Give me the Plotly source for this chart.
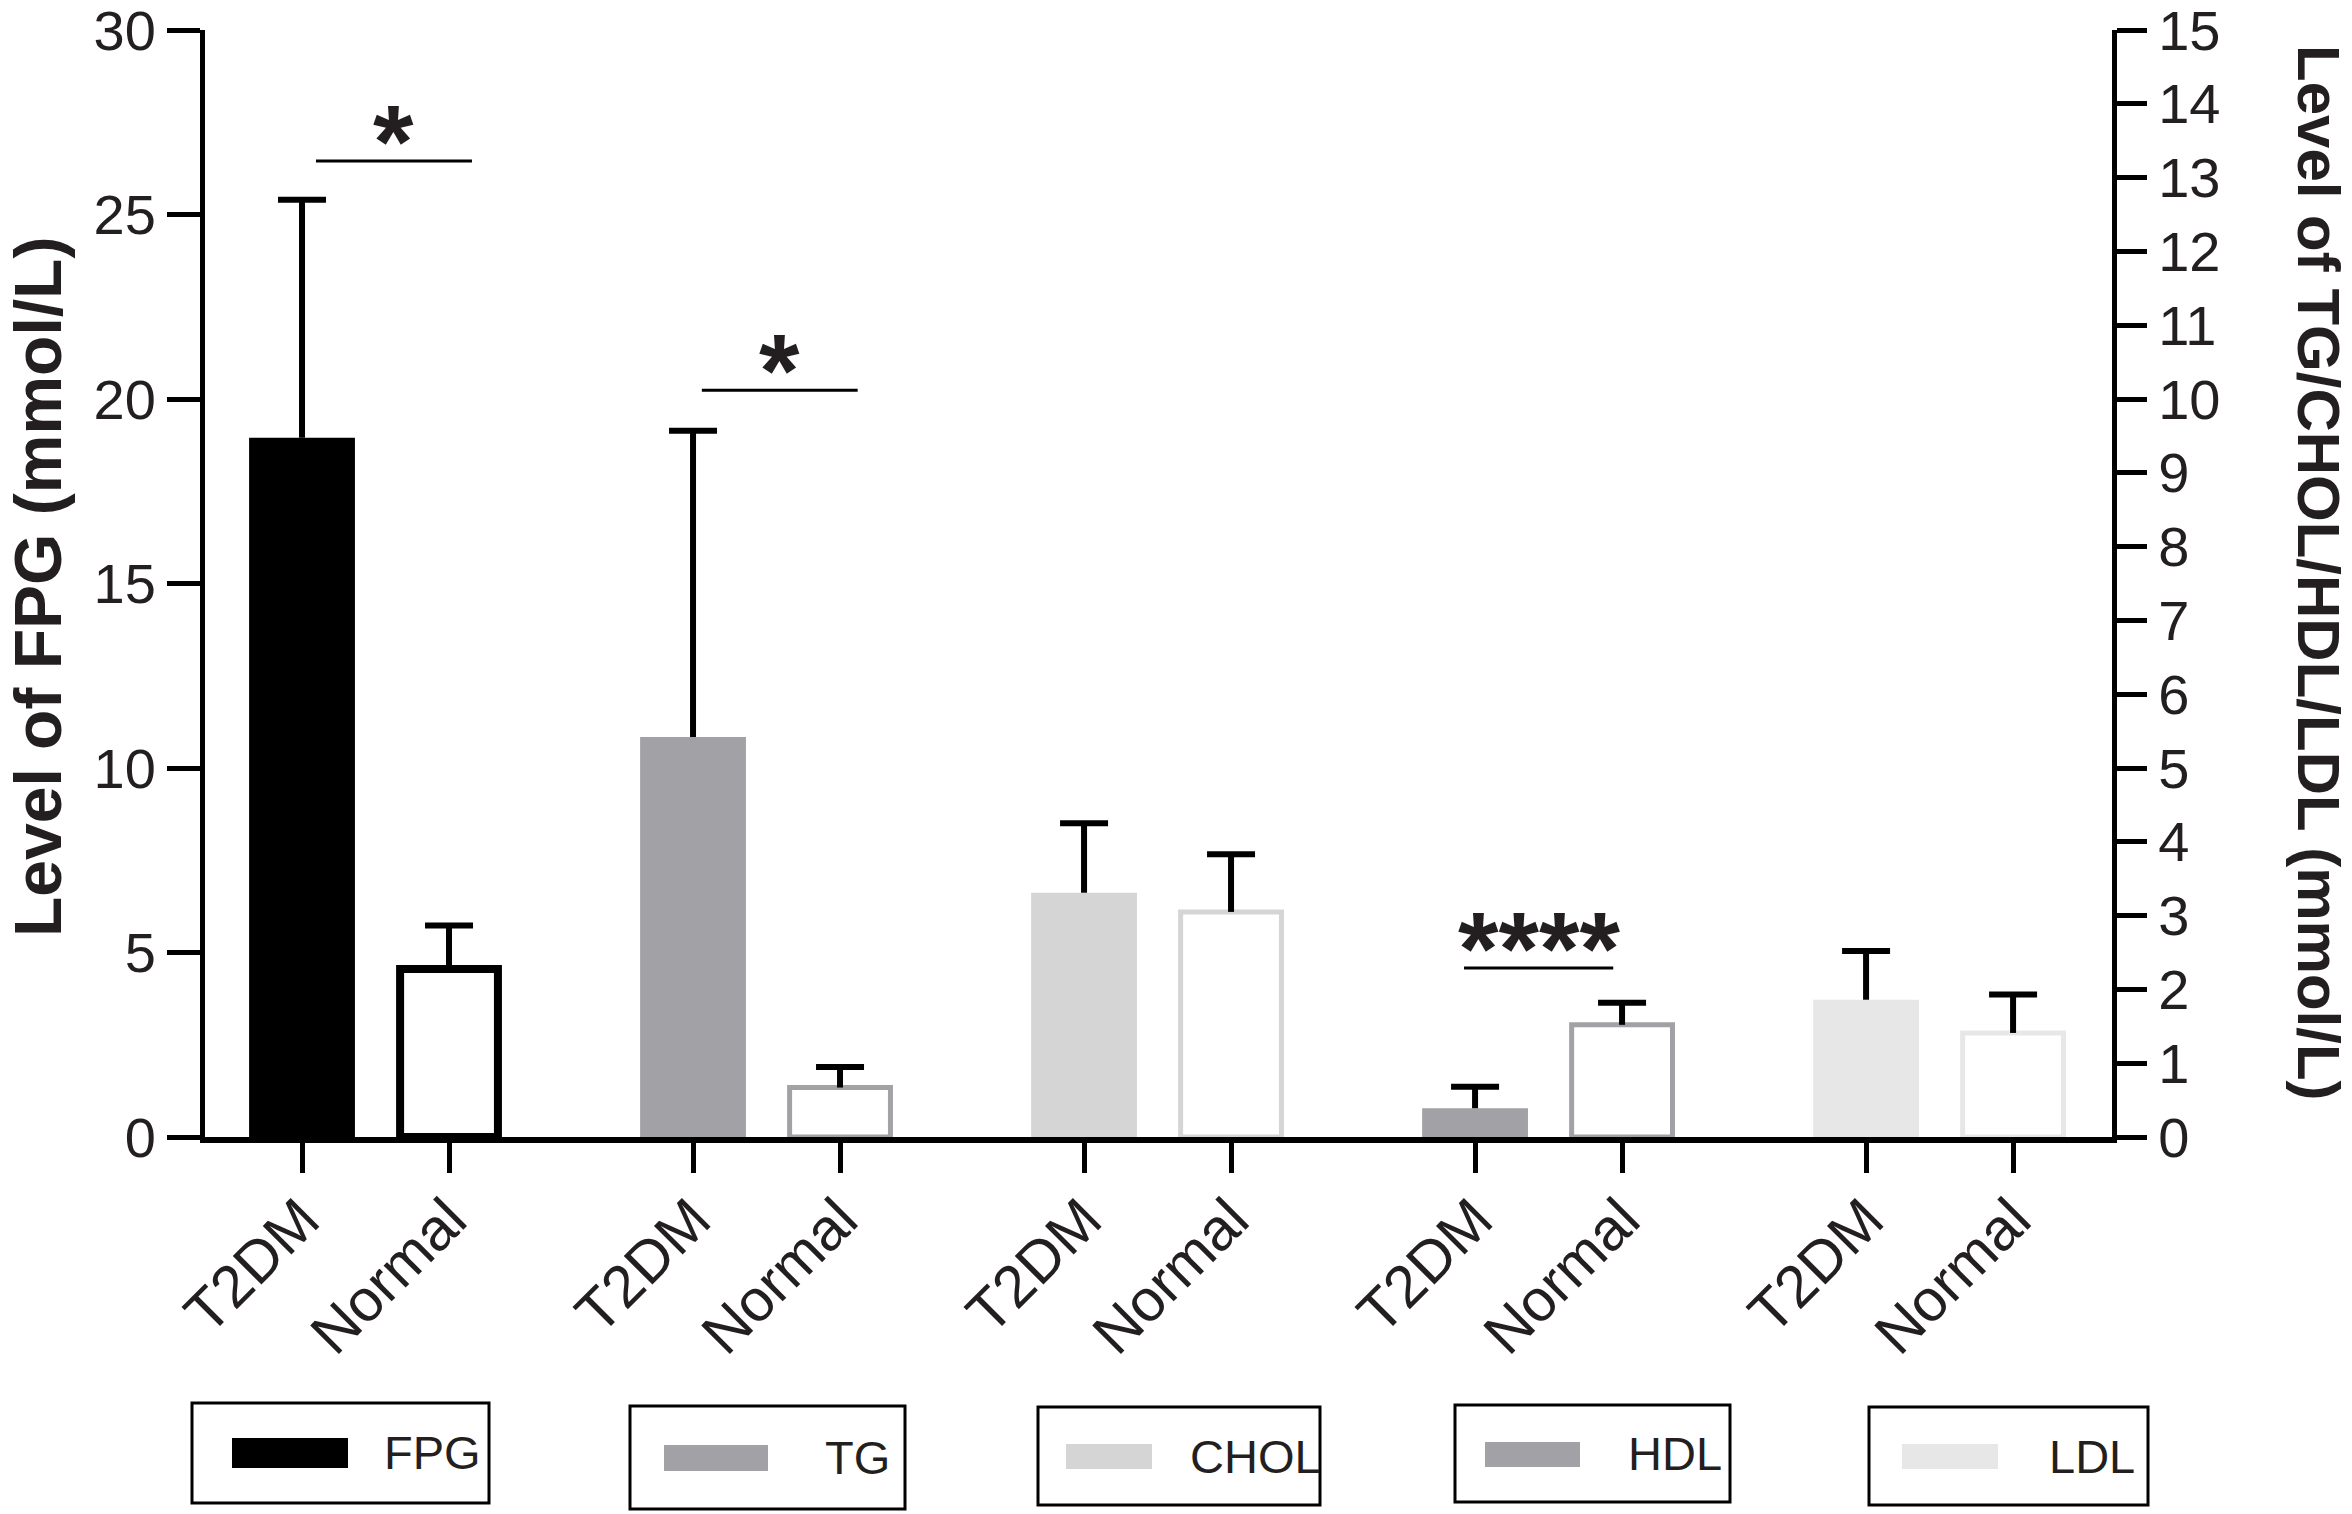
import plotly.graph_objects as go

# ---------------- data ----------------
GROUPS = ["FPG", "TG", "CHOL", "HDL", "LDL"]
TICK_LABELS = ["T2DM", "Normal"]
T2DM_MEAN = [18.95, 5.42, 3.31, 0.39, 1.86]
T2DM_SD = [6.45, 4.15, 0.94, 0.29, 0.66]
NORMAL_MEAN = [4.55, 0.67, 3.05, 1.52, 1.41]
NORMAL_SD = [1.18, 0.28, 0.78, 0.30, 0.52]
GROUP_COLORS = ["#000000", "#a2a1a6", "#d5d5d5", "#a2a1a6", "#e7e7e7"]
SIG_GROUPS = [0, 1, 3]
SIG_LABELS = ["*", "*", "****"]
SIG_LEVELS = [26.45, 10.12, 2.29]
Y1_TICKS = [0, 5, 10, 15, 20, 25, 30]
Y2_TICKS = list(range(0, 16))

# ---------------- layout constants (page pixels) ----------------
W, H = 2352, 1514
ML, MR, MT, MB = 205, 240, 30, 377
PW, PH = W - ML - MR, H - MT - MB
GROUP_STEP = 2.66
PAIR_STEP = 1.0
XR = [-0.66, 12.313]
BAR_W = 0.72
CAP_HALF = 24 / 147
FONT = "Liberation Sans, Arial, sans-serif"
TXT = "#231f20"
SIG_OFFSETS = [(0.095, 1.156), (0.06, 1.12), (-0.075, 0.94)]


def px_x(p):
    return (p - ML) / PW


def px_y(p):
    return (H - MB - p) / PH


def err_trace(x, m, sd, yax):
    return go.Scatter(
        x=[x, x, None, x - CAP_HALF, x + CAP_HALF],
        y=[m, m + sd, None, m + sd, m + sd],
        mode="lines", yaxis=yax, line=dict(color="black", width=6),
        showlegend=False, hoverinfo="skip", cliponaxis=False)


fig = go.Figure()
tickvals, ticktext = [], []
for g, name in enumerate(GROUPS):
    yax = "y" if g == 0 else "y2"
    col = GROUP_COLORS[g]
    x0 = g * GROUP_STEP
    x1 = x0 + PAIR_STEP
    tickvals += [x0, x1]
    ticktext += TICK_LABELS
    lw = 8 if g == 0 else 5
    fig.add_trace(go.Bar(
        x=[x0], y=[T2DM_MEAN[g]], width=BAR_W, yaxis=yax,
        marker=dict(color=col, line=dict(width=0)),
        showlegend=False, name=name + " T2DM"))
    fig.add_trace(go.Bar(
        x=[x1], y=[NORMAL_MEAN[g]], width=BAR_W - lw / 147, yaxis=yax,
        marker=dict(color="white", line=dict(width=lw, color=col)),
        showlegend=False, name=name + " Normal"))
for g in range(len(GROUPS)):
    yax = "y" if g == 0 else "y2"
    x0 = g * GROUP_STEP
    fig.add_trace(err_trace(x0, T2DM_MEAN[g], T2DM_SD[g], yax))
    fig.add_trace(err_trace(x0 + PAIR_STEP, NORMAL_MEAN[g], NORMAL_SD[g], yax))

shapes = []
annotations = []
for i, g in enumerate(SIG_GROUPS):
    yref = "y" if g == 0 else "y2"
    a, b = SIG_OFFSETS[i]
    xa = g * GROUP_STEP + a
    xb = g * GROUP_STEP + b
    shapes.append(dict(type="line", xref="x", yref=yref, x0=xa, x1=xb,
                       y0=SIG_LEVELS[i], y1=SIG_LEVELS[i],
                       line=dict(color="black", width=3)))
    annotations.append(dict(xref="x", yref=yref, x=(xa + xb) / 2, y=SIG_LEVELS[i],
                            text=SIG_LABELS[i], showarrow=False, yanchor="bottom",
                            yshift=-41,
                            font=dict(family=FONT, size=104, color=TXT, weight="bold")))

# legend boxes (page pixel layout)
BOXES = [(192, 489, 1403, 1503), (630, 905, 1406, 1509), (1038, 1320, 1407, 1505),
         (1455, 1730, 1405, 1502), (1869, 2148, 1407, 1505)]
SWATCHES = [(232, 348, 1438, 1468), (664, 768, 1445, 1471), (1066, 1152, 1444, 1469),
            (1485, 1580, 1442, 1467), (1902, 1998, 1444, 1469)]
LABEL_X = [432, 857, 1255, 1675, 2092]
LABEL_Y = [1452, 1457, 1456, 1453, 1456]
for i, name in enumerate(GROUPS):
    bx0, bx1, by0, by1 = BOXES[i]
    shapes.append(dict(type="rect", xref="paper", yref="paper",
                       x0=px_x(bx0), x1=px_x(bx1), y0=px_y(by1), y1=px_y(by0),
                       line=dict(color="black", width=3), fillcolor="rgba(0,0,0,0)"))
    sx0, sx1, sy0, sy1 = SWATCHES[i]
    shapes.append(dict(type="rect", xref="paper", yref="paper",
                       x0=px_x(sx0), x1=px_x(sx1), y0=px_y(sy1), y1=px_y(sy0),
                       line=dict(width=0), fillcolor=GROUP_COLORS[i]))
    annotations.append(dict(xref="paper", yref="paper", x=px_x(LABEL_X[i]), y=px_y(LABEL_Y[i]),
                            text=name, showarrow=False, xanchor="center", yanchor="middle",
                            font=dict(family=FONT, size=47, color=TXT)))

# axis titles
annotations.append(dict(xref="paper", yref="paper", x=0, xshift=38 - ML, y=px_y(587),
                        text="Level of FPG (mmol/L)", textangle=-90, showarrow=False,
                        xanchor="center", yanchor="middle",
                        font=dict(family=FONT, size=66, color=TXT, weight="bold")))
annotations.append(dict(xref="paper", yref="paper", x=1, xshift=2319 - (W - MR), y=px_y(573),
                        text="Level of TG/CHOL/HDL/LDL (mmol/L)", textangle=90, showarrow=False,
                        xanchor="center", yanchor="middle",
                        font=dict(family=FONT, size=60, color=TXT, weight="bold")))

fig.update_layout(
    width=W, height=H,
    margin=dict(l=ML, r=MR, t=MT, b=MB, autoexpand=False),
    plot_bgcolor="white", paper_bgcolor="white", barmode="overlay",
    font=dict(family=FONT, color=TXT),
    shapes=shapes, annotations=annotations,
    xaxis=dict(range=XR, tickvals=tickvals, ticktext=ticktext, tickangle=-45,
               showline=True, linecolor="black", linewidth=6, ticks="outside",
               ticklen=30, tickwidth=5, tickcolor="black", showgrid=False, zeroline=False,
               ticklabelstandoff=-12,
               tickfont=dict(family=FONT, size=59, color=TXT)),
    yaxis=dict(range=[0, 30], tickvals=Y1_TICKS, showline=True, linecolor="black", linewidth=5,
               ticks="outside", ticklen=33, tickwidth=5, tickcolor="black", showgrid=False,
               zeroline=False, ticklabeloverflow="allow",
               tickfont=dict(family=FONT, size=56, color=TXT)),
    yaxis2=dict(range=[0, 15], tickvals=Y2_TICKS, overlaying="y", side="right", showline=True,
                linecolor="black", linewidth=5, ticks="outside", ticklen=30, tickwidth=5,
                tickcolor="black", showgrid=False, zeroline=False, ticklabeloverflow="allow",
                tickfont=dict(family=FONT, size=56, color=TXT)),
)

fig.write_html("out.html", config={"displayModeBar": False},
               post_script="document.body.style.margin='0px';document.body.style.overflow='hidden';")
